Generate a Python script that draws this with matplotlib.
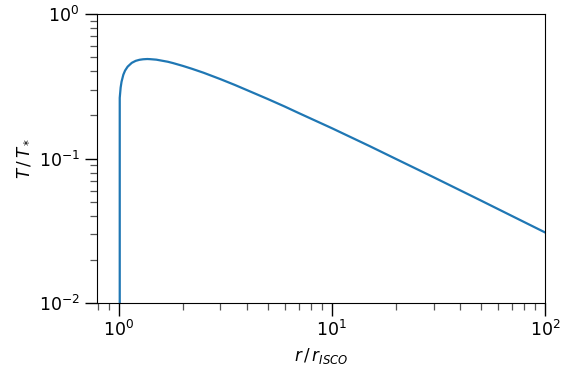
import numpy as np
import matplotlib
matplotlib.use('Agg')
import matplotlib.pyplot as plt

# -- radius in units of r_ISCO and temperature profile
r_ratio = [1.0, 1.01, 1.02, 1.03, 1.05, 1.07, 1.1, 1.15, 1.2, 1.25, 1.3, 1.36,
           1.4, 1.5, 1.7, 1.8, 2.0, 2.2, 2.5, 3.0, 3.5, 4.0, 5.0, 6.0, 7.0,
           10.0, 15.0, 20.0, 30.0, 50.0, 70.0, 100.0]
t_ratio = [0.0, 0.263, 0.310, 0.340, 0.380, 0.406, 0.432, 0.459, 0.474, 0.482,
           0.486, 0.488, 0.487, 0.483, 0.467, 0.457, 0.437, 0.418, 0.392,
           0.354, 0.323, 0.297, 0.258, 0.229, 0.206, 0.162, 0.122, 0.0992,
           0.0742, 0.0512, 0.0400, 0.0308]

fig = plt.figure(figsize=(5.62, 3.74), dpi=100)
ax = fig.add_axes([0.1726, 0.1898, 0.7972, 0.7728])

ax.plot(r_ratio, t_ratio, color='#1f77b4', lw=1.6)
ax.set_xscale('log')
ax.set_yscale('log')
ax.set_xlim(0.79, 100)
ax.set_ylim(1e-2, 1)

ax.tick_params(which='major', length=9, width=1, labelsize=12.5)
ax.tick_params(which='minor', length=5, width=0.9, color='#555555')

ax.set_xlabel(r'$r\,/\,r_{ISCO}$', fontsize=12)
ax.set_ylabel(r'$T\,/\,T_*$', fontsize=12)

fig.savefig('out.png', dpi=100)
